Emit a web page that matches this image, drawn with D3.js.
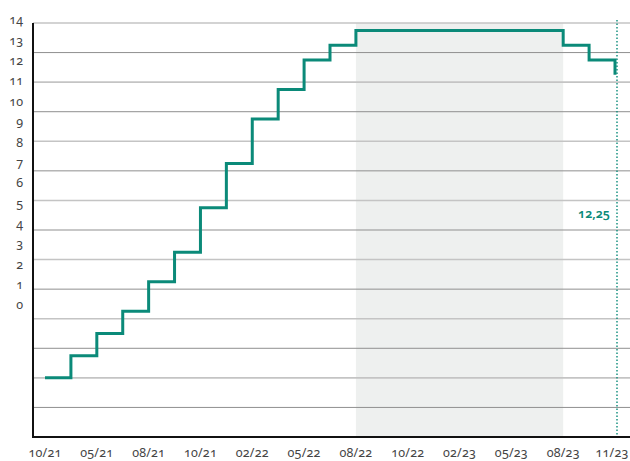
<!DOCTYPE html>
<html>
<head>
<meta charset="utf-8">
<script src="https://cdn.jsdelivr.net/npm/d3@7"></script>
<style>
  html, body { margin: 0; padding: 0; background: #fff; }
  svg text { font-family: "Noto Sans", "Open Sans", sans-serif; font-variant-numeric: oldstyle-nums; }
</style>
</head>
<body>
<svg id="chart" width="630" height="461"></svg>
<script>
// Data: policy rate at each meeting (equally spaced steps)
const rates = [2.0, 2.75, 3.5, 4.25, 5.25, 6.25, 7.75, 9.25, 10.75, 11.75, 12.75, 13.25, 13.75,
               13.75, 13.75, 13.75, 13.75, 13.75, 13.75, 13.75, 13.25, 12.75, 12.25];
const xTickIdx = [0, 2, 4, 6, 8, 10, 12, 14, 16, 18, 20, 22];
const xTickLabels = ["10/21", "05/21", "08/21", "10/21", "02/22", "05/22", "08/22", "10/22", "02/23", "05/23", "08/23", "11/23"];
const yTickLabels = [0, 1, 2, 3, 4, 5, 6, 7, 8, 9, 10, 11, 12, 13, 14];
const gridValues = [1, 2, 3, 4, 5, 6, 7, 8, 9, 10, 11, 12, 13, 14];
const shadeRange = [12, 20];
const lastLabel = "12,25";

(function () {
const svg = d3.select("#chart");
const W = 630;
const mLeft = 33, mBottom = 437, mTop = 23;
const teal = "#0b8a79";

const x = d3.scaleLinear().domain([0, rates.length - 1]).range([45, 615]);
const y = d3.scaleLinear().domain([0, 14]).range([mBottom, mTop]);
const yLab = d3.scaleLinear().domain([0, 14]).range([305, 20]);

// shaded period
svg.append("rect")
  .attr("x", x(shadeRange[0])).attr("y", mTop)
  .attr("width", x(shadeRange[1]) - x(shadeRange[0]))
  .attr("height", mBottom - mTop)
  .attr("fill", "#eef0ef");

// gridlines
svg.append("g").selectAll("line").data(gridValues).join("line")
  .attr("x1", mLeft).attr("x2", W)
  .attr("y1", d => y(d)).attr("y2", d => y(d))
  .attr("stroke", d => d % 2 === 0 ? "#c4c4c4" : "#8f8f8f")
  .attr("stroke-width", d => d % 2 === 0 ? 1.6 : 1);

// dotted vertical marker
svg.append("line")
  .attr("x1", x(rates.length - 1) + 2).attr("x2", x(rates.length - 1) + 2)
  .attr("y1", mTop - 3).attr("y2", mBottom)
  .attr("stroke", teal).attr("stroke-width", 1.4)
  .attr("stroke-dasharray", "1.5,2");

// step line
const line = d3.line()
  .x((d, i) => x(i))
  .y(d => y(d))
  .curve(d3.curveStepAfter);
svg.append("path").datum(rates)
  .attr("d", line)
  .attr("fill", "none")
  .attr("stroke", teal)
  .attr("stroke-width", 3);

// axes lines
svg.append("line").attr("x1", mLeft).attr("x2", mLeft).attr("y1", mTop).attr("y2", mBottom + 1)
  .attr("stroke", "#111").attr("stroke-width", 2);
svg.append("line").attr("x1", mLeft).attr("x2", W).attr("y1", mBottom).attr("y2", mBottom)
  .attr("stroke", "#111").attr("stroke-width", 2);

// y tick labels
svg.append("g").selectAll("text").data(yTickLabels).join("text")
  .attr("x", 23).attr("y", d => yLab(d))
  .attr("dy", "0.35em")
  .attr("text-anchor", "end")
  .attr("font-size", 12.5)
  .attr("fill", "#444")
  .text(d => d);

// x tick labels
svg.append("g").selectAll("text").data(xTickIdx).join("text")
  .attr("x", d => Math.min(x(d), 612)).attr("y", 453)
  .attr("dy", "0.35em")
  .attr("text-anchor", "middle")
  .attr("font-size", 12.5)
  .attr("letter-spacing", 0.2)
  .attr("fill", "#444")
  .text((d, i) => xTickLabels[i]);

// last value label
svg.append("text")
  .attr("x", 610).attr("y", 214)
  .attr("dy", "0.35em")
  .attr("text-anchor", "end")
  .attr("font-size", 12.5)
  .attr("font-weight", 600)
  .attr("fill", teal)
  .text(lastLabel);
})();
</script>
</body>
</html>
